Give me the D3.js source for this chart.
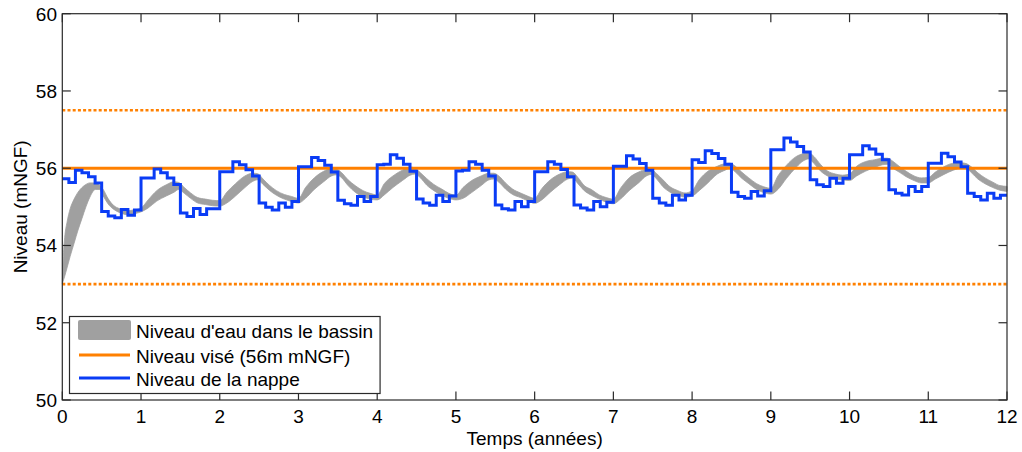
<!DOCTYPE html>
<html><head><meta charset="utf-8">
<script src="https://cdn.jsdelivr.net/npm/d3@7"></script>
<style>
body{margin:0;background:#fff}
svg{display:block}
text{font-family:"Liberation Sans",Arial,Helvetica,sans-serif;fill:#000}
</style>
</head><body>
<svg id="c" width="1022" height="452"></svg>
<script>
// ---------- data ----------
const xTicks = [0,1,2,3,4,5,6,7,8,9,10,11,12];
const yTicks = [50,52,54,56,58,60];
const niveauVise = 56;
const seuils = [57.5, 53];
const legendLabels = ["Niveau d'eau dans le bassin", "Niveau visé (56m mNGF)", "Niveau de la nappe"];

// Niveau de la nappe: monthly values (12 per year, years 0..11)
const nappe = [
55.73,55.63,55.95,55.88,55.78,55.62,54.88,54.76,54.72,54.93,54.78,54.92,
55.75,55.75,55.98,55.88,55.75,55.58,54.84,54.75,54.96,54.80,54.95,54.95,
55.91,55.91,56.17,56.09,55.96,55.80,55.10,54.99,54.92,55.10,54.99,55.14,
56.04,56.04,56.28,56.20,56.08,55.90,55.17,55.08,55.04,55.27,55.14,55.27,
56.09,56.10,56.35,56.26,56.10,55.92,55.20,55.10,55.04,55.30,55.14,55.28,
55.93,55.95,56.17,56.10,55.95,55.80,55.05,54.95,54.92,55.14,55.00,55.14,
55.91,55.91,56.17,56.10,55.97,55.78,55.05,54.97,54.92,55.14,55.00,55.12,
56.05,56.05,56.32,56.24,56.12,55.95,55.22,55.10,55.04,55.30,55.18,55.30,
56.22,56.15,56.45,56.38,56.25,56.10,55.38,55.27,55.22,55.40,55.28,55.42,
56.48,56.48,56.78,56.68,56.56,56.42,55.70,55.57,55.53,55.74,55.61,55.74,
56.35,56.35,56.58,56.50,56.36,56.22,55.44,55.35,55.31,55.53,55.40,55.53,
56.13,56.13,56.39,56.30,56.16,56.04,55.35,55.27,55.18,55.35,55.22,55.30
];

// Niveau d'eau dans le bassin: band (low / high) at given times (years)
const bassinTemps = [
0,0.01,0.03,0.06,0.1,0.15,0.2,0.25,0.3,0.35,0.42,0.47,0.52,0.58,0.65,0.73,0.82,0.91,
1,1.09,1.2,1.32,1.42,1.48,1.55,1.63,1.72,1.82,1.91,
2,2.09,2.2,2.32,2.42,2.48,2.55,2.63,2.72,2.82,2.91,
3,3.09,3.2,3.32,3.42,3.48,3.55,3.63,3.72,3.82,3.91,
4,4.09,4.2,4.32,4.42,4.48,4.55,4.63,4.72,4.82,4.91,
5,5.09,5.2,5.32,5.42,5.48,5.55,5.63,5.72,5.82,5.91,
6,6.09,6.2,6.32,6.42,6.48,6.55,6.63,6.72,6.82,6.91,
7,7.09,7.2,7.32,7.42,7.48,7.55,7.63,7.72,7.82,7.91,
8,8.09,8.2,8.32,8.42,8.48,8.55,8.63,8.72,8.82,8.91,
9,9.09,9.2,9.32,9.42,9.48,9.55,9.63,9.72,9.82,9.91,
10,10.09,10.2,10.32,10.42,10.48,10.55,10.63,10.72,10.82,10.91,
11,11.09,11.2,11.32,11.42,11.48,11.55,11.63,11.72,11.82,11.91,
12
];
const bassinBas = [
53.0,53.07,53.2,53.42,53.72,54.06,54.4,54.7,55.0,55.25,55.45,55.45,55.28,55.08,54.94,54.85,54.8,54.82,
54.87,54.97,55.15,55.28,55.38,55.45,55.35,55.22,55.1,55.06,55.03,
55.02,55.1,55.28,55.5,55.66,55.7,55.58,55.43,55.3,55.2,55.14,
55.1,55.22,55.45,55.65,55.8,55.83,55.75,55.55,55.38,55.26,55.2,
55.18,55.31,55.5,55.68,55.82,55.85,55.75,55.56,55.42,55.3,55.22,
55.18,55.22,55.37,55.55,55.7,55.72,55.63,55.46,55.32,55.24,55.16,
55.09,55.18,55.38,55.58,55.72,55.75,55.6,55.42,55.3,55.2,55.12,
55.08,55.2,55.42,55.62,55.8,55.84,55.72,55.52,55.38,55.3,55.25,
55.28,55.42,55.62,55.85,55.95,56.0,55.9,55.74,55.6,55.45,55.37,
55.33,55.45,55.74,56.02,56.2,56.24,56.12,55.93,55.8,55.72,55.7,
55.68,55.8,55.92,56.02,56.09,56.1,56.0,55.9,55.78,55.68,55.62,
55.62,55.72,55.84,55.95,56.0,56.0,55.88,55.72,55.6,55.5,55.43,
55.4
];
const bassinHaut = [
53.0,53.6,54.2,54.6,54.95,55.2,55.38,55.5,55.58,55.62,55.62,55.57,55.45,55.22,55.04,54.95,54.9,54.92,
54.97,55.18,55.42,55.57,55.65,55.63,55.5,55.36,55.24,55.2,55.17,
55.16,55.38,55.6,55.8,55.87,55.86,55.72,55.56,55.42,55.32,55.27,
55.22,55.5,55.75,55.92,55.99,55.98,55.88,55.7,55.55,55.42,55.35,
55.31,55.6,55.8,55.95,56.03,56.0,55.88,55.73,55.58,55.46,55.35,
55.3,55.5,55.68,55.8,55.87,55.87,55.79,55.62,55.46,55.36,55.28,
55.22,55.47,55.7,55.85,55.91,55.9,55.76,55.55,55.45,55.31,55.24,
55.2,55.48,55.75,55.9,55.97,55.97,55.86,55.7,55.52,55.42,55.36,
55.42,55.7,55.92,56.05,56.12,56.13,56.05,55.9,55.75,55.6,55.52,
55.48,55.8,56.08,56.3,56.38,56.4,56.3,56.1,55.93,55.85,55.82,
55.85,56.05,56.17,56.22,56.26,56.26,56.18,56.05,55.92,55.8,55.75,
55.76,55.9,56.04,56.13,56.14,56.12,56.03,55.88,55.75,55.64,55.55,
55.53
];

// ---------- layout ----------
const W = 1022, H = 452;
const L = 62.3, R = 1007, T = 13.7, B = 400;
const col = {gray:"#a0a0a0", orange:"#ff8000", blue:"#0a3cf5", axis:"#2a2a2a"};

const svg = d3.select("#c");
svg.append("rect").attr("width",W).attr("height",H).attr("fill","#fff");

const x = d3.scaleLinear().domain([0,12]).range([L,R]);
const y = d3.scaleLinear().domain([50,60]).range([B,T]);

// gray band
const band = bassinTemps.map((t,i)=>({t, lo:bassinBas[i], hi:bassinHaut[i]}));
svg.append("path").datum(band)
  .attr("fill", col.gray)
  .attr("stroke", col.gray).attr("stroke-width",0.8)
  .attr("d", d3.area().x(d=>x(d.t)).y0(d=>y(d.lo)).y1(d=>y(d.hi)).curve(d3.curveMonotoneX));

// target level and thresholds
svg.append("line").attr("x1",x(0)).attr("x2",x(12)).attr("y1",y(niveauVise)).attr("y2",y(niveauVise))
  .attr("stroke",col.orange).attr("stroke-width",3);
seuils.forEach(v=>{
  svg.append("line").attr("x1",x(0)).attr("x2",x(12)).attr("y1",y(v)).attr("y2",y(v))
    .attr("stroke",col.orange).attr("stroke-width",2.6).attr("stroke-dasharray","3,2.2");
});

// groundwater step line
const nappePts = nappe.map((v,i)=>({t:i/12, v}));
nappePts.push({t:12, v:nappe[nappe.length-1]});
svg.append("path").datum(nappePts)
  .attr("fill","none").attr("stroke",col.blue).attr("stroke-width",3)
  .attr("stroke-linejoin","miter")
  .attr("d", d3.line().x(d=>x(d.t)).y(d=>y(d.v)).curve(d3.curveStepAfter));

// axes box and ticks (MATLAB style, inward)
const ax = svg.append("g");
ax.append("rect").attr("x",L).attr("y",T).attr("width",R-L).attr("height",B-T)
  .attr("fill","none").attr("stroke",col.axis).attr("stroke-width",1.2);
const tl = 8.5;
xTicks.forEach(t=>{
  const px = x(t);
  ax.append("line").attr("x1",px).attr("x2",px).attr("y1",B).attr("y2",B-tl).attr("stroke",col.axis).attr("stroke-width",1.2);
  ax.append("line").attr("x1",px).attr("x2",px).attr("y1",T).attr("y2",T+tl).attr("stroke",col.axis).attr("stroke-width",1.2);
  ax.append("text").attr("x",px).attr("y",423).attr("text-anchor","middle").attr("font-size",19).text(t);
});
yTicks.forEach(v=>{
  const py = y(v);
  ax.append("line").attr("x1",L).attr("x2",L+tl).attr("y1",py).attr("y2",py).attr("stroke",col.axis).attr("stroke-width",1.2);
  ax.append("line").attr("x1",R).attr("x2",R-tl).attr("y1",py).attr("y2",py).attr("stroke",col.axis).attr("stroke-width",1.2);
  ax.append("text").attr("x",57).attr("y",py+7).attr("text-anchor","end").attr("font-size",19).text(v);
});

// axis labels
svg.append("text").attr("x",(L+R)/2).attr("y",445).attr("text-anchor","middle").attr("font-size",19).text("Temps (années)");
svg.append("text").attr("transform",`translate(26.5,${(T+B)/2}) rotate(-90)`).attr("text-anchor","middle").attr("font-size",19).text("Niveau (mNGF)");

// legend
const lg = svg.append("g");
const box = lg.append("rect").attr("x",69.5).attr("y",316.5).attr("height",77).attr("fill","#fff")
  .attr("stroke",col.axis).attr("stroke-width",1.2);
const rows = [330, 355, 378];
lg.append("rect").attr("x",78).attr("y",320).attr("width",53).attr("height",20).attr("rx",2)
  .attr("fill",col.gray);
lg.append("line").attr("x1",79).attr("x2",130).attr("y1",rows[1]).attr("y2",rows[1]).attr("stroke",col.orange).attr("stroke-width",3);
lg.append("line").attr("x1",79).attr("x2",130).attr("y1",rows[2]).attr("y2",rows[2]).attr("stroke",col.blue).attr("stroke-width",3);
let maxW = 0;
legendLabels.forEach((s,i)=>{
  const t = lg.append("text").attr("x",136).attr("y",rows[i]+7.5).attr("font-size",19).text(s);
  maxW = Math.max(maxW, t.node().getComputedTextLength());
});
box.attr("width", 136 + maxW + 7 - 69.5);
</script>
</body></html>
